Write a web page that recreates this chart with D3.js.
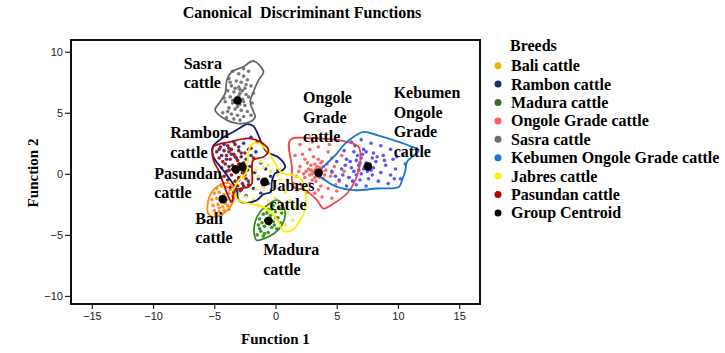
<!DOCTYPE html>
<html lang="en">
<head>
<meta charset="UTF-8">
<script src="https://d3js.org/d3.v7.min.js"></script>
<title>Canonical Discriminant Functions</title>
<style>
  body { margin: 0; background: #fff; }
  text { font-family: "Liberation Serif", "Times New Roman", serif; }
</style>
</head>
<body>
<div id="chart"></div>
<script>
// breeds, in legend order
var breeds = ["Bali cattle", "Rambon cattle", "Madura cattle", "Ongole Grade cattle",
              "Sasra cattle", "Kebumen Ongole Grade cattle", "Jabres cattle", "Pasundan cattle"];

// group centroids (function 1, function 2)
var centroids = [[-4.3, -2.08], [-2.7, 0.57], [-0.57, -3.85], [3.51, 0.08],
                 [-3.1, 6.0], [7.55, 0.6], [-0.9, -0.66], [-3.24, 0.38]];

var xTicks = [-15, -10, -5, 0, 5, 10, 15];
var yTicks = [-10, -5, 0, 5, 10];

// individual scores
var sasraPts = [[-3.5,8.4],[-3.0,8.2],[-2.6,8.0],[-3.8,7.8],[-3.2,7.6],[-2.8,7.5],[-2.3,7.7],[-3.6,7.2],
  [-3.0,7.1],[-2.5,7.0],[-2.0,7.2],[-3.9,6.8],[-3.4,6.7],[-2.9,6.6],[-2.4,6.5],[-3.7,6.3],[-3.2,6.2],
  [-2.7,6.1],[-2.2,6.3],[-4.1,5.9],[-3.5,5.8],[-2.9,5.7],[-2.5,5.6],[-1.9,5.8],[-3.8,5.4],[-3.3,5.3],
  [-2.8,5.2],[-2.3,5.1],[-4.3,5.0],[-3.6,4.9],[-3.1,4.8],[-2.6,4.7],[-2.0,4.8],[-3.4,4.5],[-2.9,4.4],
  [-4.0,4.6],[-1.8,6.6],[-2.2,8.4],[-4.2,6.2],[-2.6,8.6],[-3.3,7.0],[-2.7,6.8],[-3.1,5.5],
  [-3.0,6.4],[-3.5,6.0],[-2.6,5.9],[-3.3,5.9],[-2.9,6.9],[-3.7,7.5],[-2.4,7.3],[-3.9,5.1]];
var ramboPts = [[-4.6,2.0],[-4.2,2.4],[-3.8,2.1],[-3.4,2.6],[-3.0,2.2],[-2.6,2.5],[-2.2,2.0],[-4.4,1.5],
  [-4.0,1.2],[-3.6,1.6],[-3.2,1.3],[-2.8,1.7],[-2.4,1.2],[-2.0,1.5],[-1.6,1.8],[-3.8,0.6],[-3.3,0.3],
  [-2.9,0.8],[-2.5,0.2],[-2.1,0.6],[-1.7,0.1],[-1.2,0.9],[-0.8,0.4],[-0.4,-0.2],[0.2,0.3],[-3.0,-0.5],
  [-2.6,-1.0],[-2.2,-0.6],[-1.8,-1.2],[-1.4,-0.4],[-1.0,-1.0],[-2.4,-1.8],[-1.2,-1.6],[-0.6,-0.8],
  [-2.0,3.0],[-1.5,2.6],[-2.9,-1.4]];
var pasunPts = [[-4.8,1.8],[-4.5,2.2],[-4.2,1.9],[-3.9,2.3],[-3.6,2.0],[-3.3,2.4],[-3.0,1.9],[-4.6,1.3],
  [-4.3,1.0],[-4.0,1.5],[-3.7,1.2],[-3.4,1.6],[-3.1,1.1],[-2.8,1.4],[-2.5,1.7],[-4.4,0.5],[-4.1,0.8],
  [-3.8,0.3],[-3.5,0.7],[-3.2,0.1],[-2.9,0.5],[-2.6,0.9],[-2.3,0.3],[-4.2,-0.2],[-3.9,-0.5],[-3.6,-0.1],
  [-3.3,-0.6],[-3.0,-0.3],[-2.7,-0.8],[-2.4,-0.4],[-3.7,-1.1],[-3.4,-1.5],[-3.1,-1.0],[-2.8,-1.3],
  [-2.2,-0.9],[-1.8,1.3],[-2.0,2.1],[-3.5,0.4],[-3.0,0.8],[-3.3,1.4],[-4.0,0.2],[-2.7,0.1],
  [-3.8,1.8],[-2.5,-0.1]];
var jabrePts = [[-1.8,1.2],[-1.2,1.0],[-0.6,0.7],[-2.2,0.4],[-1.6,0.3],[-1.0,0.5],[-0.4,0.2],[0.2,-0.1],
  [-2.6,-0.3],[-2.0,-0.5],[-1.4,-0.2],[-0.8,-0.4],[-0.2,-0.7],[0.4,-0.5],[1.0,-0.6],[-2.8,-1.2],
  [-2.2,-1.0],[-1.6,-1.3],[-1.0,-1.1],[-0.4,-1.4],[0.2,-1.2],[0.8,-1.5],[-2.4,-1.9],[-1.8,-2.1],
  [-1.2,-1.8],[-0.6,-2.2],[0.0,-2.0],[0.6,-2.4],[1.2,-2.2],[-1.4,-2.6],[-0.8,-2.8],[0.4,-3.0],
  [1.0,-3.2],[1.6,-2.8],[1.4,-3.8],[0.8,-4.2],[1.8,-1.4],[-3.0,-1.6]];
var baliPts = [[-4.8,-1.2],[-4.4,-1.0],[-4.0,-1.1],[-3.7,-1.3],[-5.0,-1.6],[-4.6,-1.5],[-4.2,-1.7],
  [-3.8,-1.6],[-3.5,-1.8],[-5.2,-2.1],[-4.8,-2.0],[-4.4,-2.3],[-4.0,-2.1],[-3.6,-2.3],[-5.1,-2.6],
  [-4.7,-2.5],[-4.3,-2.7],[-3.9,-2.6],[-5.0,-3.0],[-4.6,-3.1],[-4.2,-3.0],[-3.8,-2.9],[-4.9,-3.3],
  [-4.4,-3.3],[-4.5,-1.9],[-4.1,-2.4],[-4.6,-2.8]];
var maduPts = [[-0.2,-2.6],[0.3,-2.8],[-0.6,-2.9],[0.0,-3.1],[0.5,-3.2],[-1.0,-3.3],[-0.4,-3.4],
  [0.2,-3.6],[-1.3,-3.7],[-0.8,-3.8],[-0.2,-3.9],[0.4,-4.0],[-1.4,-4.2],[-0.9,-4.3],[-0.3,-4.4],
  [-1.2,-4.7],[-0.6,-4.8],[-1.5,-5.0],[-1.0,-5.1],[0.1,-4.5],[-0.7,-3.2],[-1.1,-4.0],[-0.5,-4.1],
  [0.0,-3.6],[-1.3,-4.5],[-0.9,-4.9],[-0.3,-2.9],[-0.1,-4.2]];
var ongolePts = [[2.0,2.4],[2.8,2.0],[3.5,2.2],[4.3,1.8],[1.6,1.5],[2.4,1.2],[3.1,1.4],[3.8,1.0],
  [4.6,1.3],[5.4,1.5],[2.0,0.6],[2.7,0.4],[3.2,0.8],[3.6,0.5],[4.1,0.3],[4.8,0.6],[5.6,0.2],[1.7,-0.2],
  [2.4,-0.3],[3.0,0.0],[3.4,-0.2],[3.9,-0.4],[4.5,-0.2],[5.2,-0.6],[6.0,-0.3],[2.1,-0.9],[2.8,-0.8],
  [3.3,-0.6],[3.7,-1.0],[4.3,-1.2],[5.0,-1.4],[2.6,-1.5],[3.2,-1.6],[3.8,-1.9],[4.6,-2.0],[2.9,0.3],
  [3.8,0.2],[3.3,0.4],[4.0,-0.1],[2.6,0.9],[1.5,-0.8],[4.4,2.4],[3.0,2.6],
  [3.1,0.2],[3.4,0.6],[2.8,-0.1],[3.6,-0.3],[3.2,-0.3],[2.5,0.2],[3.9,0.6],[3.5,1.2],[2.9,0.7],
  [4.2,0.8],[2.3,0.0],[3.0,-0.5],[4.6,0.1],[3.7,0.9],[2.2,1.6],[4.9,-0.9],[1.9,0.2],[3.5,-1.3]];
var kebumPts = [[6.2,2.6],[7.0,2.8],[7.8,2.5],[8.6,2.3],[9.4,2.0],[5.6,1.9],[6.4,1.8],[7.2,2.0],
  [8.0,1.7],[8.8,1.5],[9.6,1.2],[10.4,1.6],[5.0,1.0],[5.8,1.2],[6.6,1.1],[7.0,1.3],[7.4,0.9],[8.2,1.0],
  [9.0,0.7],[9.8,0.4],[10.6,0.8],[4.6,0.2],[5.4,0.4],[6.2,0.5],[6.8,0.7],[7.2,0.4],[7.8,0.3],[8.6,0.1],
  [9.4,-0.1],[10.2,-0.4],[5.2,-0.5],[6.0,-0.3],[6.6,-0.1],[7.0,0.0],[7.6,-0.4],[8.4,-0.6],[9.2,-0.8],
  [5.8,-1.0],[6.6,-0.9],[7.4,-1.0],[6.8,0.3],[7.1,1.6],[6.5,2.3],
  [7.3,0.6],[6.9,0.9],[7.7,0.8],[7.5,0.2],[6.4,0.2],[8.0,0.5],[6.1,1.0],[7.9,1.3],[6.7,1.5],
  [7.4,1.8],[5.7,0.7],[8.3,1.4],[6.3,-0.6],[7.9,-0.1],[5.5,-0.1],[8.9,1.1],[9.9,1.4],[9.7,-0.4],
  [4.9,-0.2],[6.9,-0.5]];

// outlines around each group
var sasraHull = [[-1.80,9.24],[-0.98,8.36],[-1.39,7.68],[-1.80,6.72],[-2.07,5.90],[-1.80,5.08],
  [-1.66,4.67],[-2.07,4.26],[-3.16,4.13],[-3.97,4.40],[-4.93,5.22],[-4.52,5.90],[-4.11,6.59],
  [-3.97,7.68],[-3.57,8.36],[-2.62,8.77]];
var ramboHull = [[-2.34,4.07],[-1.80,3.91],[-1.47,3.31],[-1.12,2.49],[-0.71,1.80],[0.25,1.34],
  [0.79,0.57],[0.52,0.25],[-0.03,0.03],[-0.30,-0.66],[-0.38,-1.48],[-0.98,-1.67],[-1.53,-2.16],
  [-2.34,-2.38],[-3.02,-2.16],[-3.16,-1.34],[-4.20,0.20],[-5.07,1.39],[-5.12,2.21],[-4.39,2.90],
  [-3.43,3.44],[-2.75,3.85]];
var pasunHull = [[-5.07,2.21],[-3.70,2.62],[-2.21,2.90],[-1.25,2.62],[-0.57,1.94],[-0.98,1.39],
  [-1.82,1.12],[-1.93,-0.79],[-2.21,-1.07],[-3.30,-1.34],[-3.57,-2.30],[-3.84,-1.89],[-4.25,-0.79],
  [-4.66,0.30],[-5.07,1.12]];
var jabreHull = [[-1.93,2.43],[-1.39,2.49],[-0.71,1.94],[-0.03,0.85],[0.52,0.08],[1.47,-0.11],
  [2.15,-0.52],[2.43,-1.48],[2.43,-2.84],[2.02,-3.80],[1.34,-4.62],[0.65,-4.67],[0.25,-3.93],
  [-0.30,-3.25],[-1.12,-2.65],[-2.21,-2.43],[-3.11,-2.10],[-3.38,-1.39],[-3.11,-0.66],[-2.40,0.08],
  [-2.29,0.85],[-2.21,1.80]];
var baliHull = [[-5.56,-2.70],[-5.40,-1.89],[-4.80,-1.07],[-3.98,-0.74],[-3.51,-1.01],[-3.35,-1.89],
  [-3.57,-2.49],[-3.98,-3.03],[-4.52,-3.39],[-5.12,-3.52],[-5.50,-3.25]];
var maduHull = [[0.11,-2.16],[0.60,-2.57],[0.79,-3.39],[0.52,-4.21],[-0.11,-4.89],[-0.93,-5.30],
  [-1.53,-5.44],[-1.74,-4.89],[-1.66,-3.93],[-1.25,-3.11],[-0.57,-2.49]];
var ongoleHull = [[1.20,2.76],[3.11,2.90],[5.84,2.62],[6.79,2.21],[6.93,1.12],[6.52,-0.52],
  [5.84,-1.61],[4.74,-2.43],[3.92,-2.84],[3.39,-2.16],[2.43,-1.34],[1.47,-1.07],[1.34,0.57]];
var kebumHull = [[7.20,3.44],[8.29,3.17],[10.06,2.62],[11.01,2.27],[11.69,1.94],[10.74,0.98],
  [10.61,0.30],[10.34,-0.52],[10.06,-1.07],[8.29,-1.20],[6.38,-1.34],[5.02,-1.07],[4.06,-0.52],
  [3.52,0.03],[4.20,0.85],[5.02,1.67],[5.56,2.35],[6.38,3.03]];

// labels inside the plot, one entry per text line block
var plotLabels = [
  {lines: ["Sasra", "cattle"], at: [-7.5, 8.6]},
  {lines: ["Rambon", "cattle"], at: [-8.6, 2.9]},
  {lines: ["Pasundan", "cattle"], at: [-9.9, -0.4]},
  {lines: ["Bali", "cattle"], at: [-6.55, -4.1]},
  {lines: ["Madura", "cattle"], at: [-1.0, -6.65]},
  {lines: ["Jabres", "cattle"], at: [-0.5, -1.4]},
  {lines: ["Ongole", "Grade", "cattle"], at: [2.25, 5.8]},
  {lines: ["Kebumen", "Ongole", "Grade", "cattle"], at: [9.65, 6.2]}
];

// styles
var pointColor = ["#ff8f26", "#2b3c9c", "#3a9a1e", "#ff6868", "#7a7a7a", "#5858ff", "#f2ee55", "#a81a1a"];
var hullColor  = ["#ff8a00", "#0e1f6e", "#3a8a26", "#f24646", "#676767", "#1a76d2", "#ffee00", "#b50a0a"];
var legendColor = ["#f5b400", "#1b2a68", "#3f6a2c", "#ff5c5c", "#6e6e6e", "#1f74d1", "#ffee00", "#c00000", "#000000"];

var groupPts = [baliPts, ramboPts, maduPts, ongolePts, sasraPts, kebumPts, jabrePts, pasunPts];
var groupHull = [baliHull, ramboHull, maduHull, ongoleHull, sasraHull, kebumHull, jabreHull, pasunHull];

var W = 725, H = 353;
var plot = {left: 71, right: 480, top: 40, bottom: 304};

var svg = d3.select("#chart").append("svg")
    .attr("width", W).attr("height", H);

var x = d3.scaleLinear().domain([-16.7, 16.7]).range([plot.left, plot.right]);
var y = d3.scaleLinear().domain([-10.66, 10.96]).range([plot.bottom, plot.top]);

// title
svg.append("text")
    .attr("x", 302).attr("y", 18)
    .attr("text-anchor", "middle")
    .attr("xml:space", "preserve")
    .style("font-size", "16px").style("font-weight", "bold")
    .text("Canonical  Discriminant Functions");

// axes
var xAxis = svg.append("g")
    .attr("transform", "translate(0," + plot.bottom + ")")
    .call(d3.axisBottom(x).tickValues(xTicks).tickSize(5).tickPadding(3));
var yAxis = svg.append("g")
    .attr("transform", "translate(" + plot.left + ",0)")
    .call(d3.axisLeft(y).tickValues(yTicks).tickSize(6).tickPadding(2));
[xAxis, yAxis].forEach(function(a) {
  a.select(".domain").remove();
  a.selectAll("line").attr("stroke", "#222").attr("stroke-width", 1.2);
  a.selectAll("text")
    .style("font-family", "'Liberation Sans', Arial, sans-serif")
    .style("font-size", "11px").attr("fill", "#222");
});

svg.append("text")
    .attr("x", 275.5).attr("y", 344)
    .attr("text-anchor", "middle")
    .style("font-size", "15px").style("font-weight", "bold")
    .text("Function 1");
svg.append("text")
    .attr("transform", "translate(38," + 173 + ") rotate(-90)")
    .attr("text-anchor", "middle")
    .style("font-size", "15px").style("font-weight", "bold")
    .text("Function 2");

svg.append("defs").append("clipPath").attr("id", "clip")
  .append("rect")
    .attr("x", plot.left).attr("y", plot.top)
    .attr("width", plot.right - plot.left).attr("height", plot.bottom - plot.top);

var area = svg.append("g").attr("clip-path", "url(#clip)");

// points
groupPts.forEach(function(pts, i) {
  area.append("g").selectAll("circle")
    .data(pts).enter().append("circle")
      .attr("cx", function(d) { return x(d[0]); })
      .attr("cy", function(d) { return y(d[1]); })
      .attr("r", 1.8)
      .attr("fill", pointColor[i]);
});

// outlines
var hullLine = d3.line()
    .x(function(d) { return x(d[0]); })
    .y(function(d) { return y(d[1]); })
    .curve(d3.curveCatmullRomClosed.alpha(0.5));
groupHull.forEach(function(h, i) {
  area.append("path")
    .attr("d", hullLine(h))
    .attr("fill", "none")
    .attr("stroke", hullColor[i])
    .attr("stroke-width", 1.8);
});

// centroids
area.selectAll(".centroid")
  .data(centroids).enter().append("circle")
    .attr("class", "centroid")
    .attr("cx", function(d) { return x(d[0]); })
    .attr("cy", function(d) { return y(d[1]); })
    .attr("r", 4.3)
    .attr("fill", "#000");

// labels
plotLabels.forEach(function(l) {
  var t = svg.append("text")
    .attr("x", x(l.at[0])).attr("y", y(l.at[1]))
    .style("font-size", "16px").style("font-weight", "bold");
  l.lines.forEach(function(s, k) {
    t.append("tspan").attr("x", x(l.at[0])).attr("dy", k === 0 ? 0 : 19.5).text(s);
  });
});

// frame
svg.append("rect")
    .attr("x", plot.left).attr("y", plot.top)
    .attr("width", plot.right - plot.left).attr("height", plot.bottom - plot.top)
    .attr("fill", "none").attr("stroke", "#111").attr("stroke-width", 2);

// legend
var legendItems = breeds.concat(["Group Centroid"]);
var lg = svg.append("g");
lg.append("text")
    .attr("x", 510).attr("y", 51)
    .style("font-size", "16px").style("font-weight", "bold")
    .text("Breeds");
legendItems.forEach(function(name, i) {
  var cy = 65.7 + i * 18.4;
  lg.append("circle").attr("cx", 498).attr("cy", cy).attr("r", 3.5).attr("fill", legendColor[i]);
  lg.append("text")
    .attr("x", 511).attr("y", cy + 5.5)
    .style("font-size", "16px").style("font-weight", "bold")
    .text(name);
});
</script>
</body>
</html>
